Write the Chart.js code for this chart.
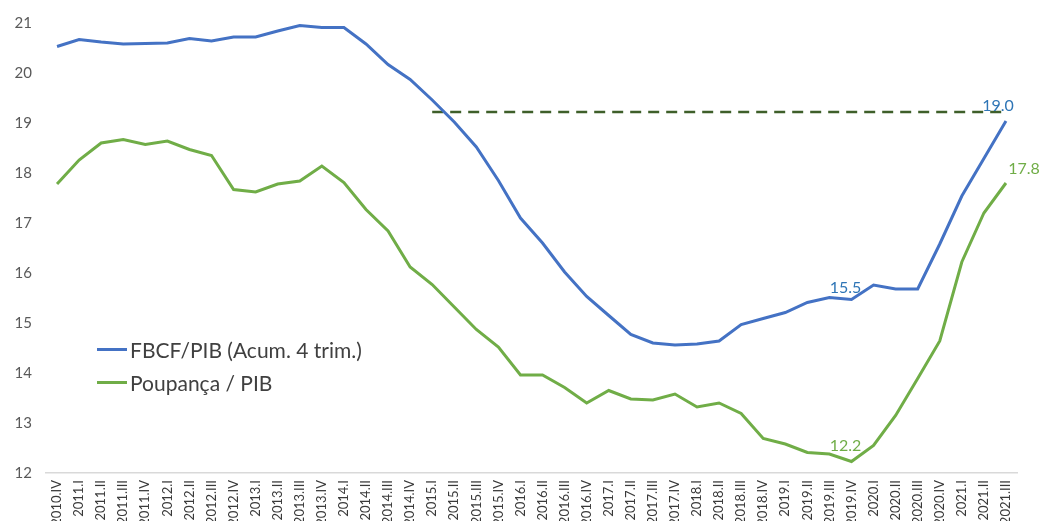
<!DOCTYPE html>
<html lang="pt">
<head>
  <meta charset="UTF-8">
  <title>FBCF e Poupança / PIB</title>
  <script src="https://cdn.jsdelivr.net/npm/chart.js@4.4.1/dist/chart.umd.min.js"></script>
  <style>
    html, body { margin: 0; padding: 0; background: #fff; overflow: hidden; }
    #wrap { position: relative; width: 1039px; height: 521px; overflow: hidden; }
    .leg { position: absolute; left: 97px; font: 21px Lato, sans-serif; color: #404040; display: flex; align-items: center; white-space: nowrap; }
    .leg i { display: inline-block; width: 30px; height: 3px; margin-right: 3px; }
  </style>
</head>
<body>
  <div id="wrap">
    <canvas id="chart" width="1039" height="560"></canvas>
    <div class="leg" style="top:337px"><i style="background:#4472C4"></i>FBCF/PIB (Acum. 4 trim.)</div>
    <div class="leg" style="top:370px"><i style="background:#70AD47"></i>Poupança / PIB</div>
  </div>
  <script>
    const quarters = [
      '2010.IV',
      '2011.I', '2011.II', '2011.III', '2011.IV',
      '2012.I', '2012.II', '2012.III', '2012.IV',
      '2013.I', '2013.II', '2013.III', '2013.IV',
      '2014.I', '2014.II', '2014.III', '2014.IV',
      '2015.I', '2015.II', '2015.III', '2015.IV',
      '2016.I', '2016.II', '2016.III', '2016.IV',
      '2017.I', '2017.II', '2017.III', '2017.IV',
      '2018.I', '2018.II', '2018.III', '2018.IV',
      '2019.I', '2019.II', '2019.III', '2019.IV',
      '2020.I', '2020.II', '2020.III', '2020.IV',
      '2021.I', '2021.II', '2021.III'
    ];

    // FBCF/PIB (acum. 4 trim.), %
    const fbcf = [
      20.53,
      20.67, 20.62, 20.58, 20.59,
      20.60, 20.69, 20.64, 20.72,
      20.72, 20.84, 20.95, 20.91,
      20.91, 20.58, 20.17, 19.87,
      19.46, 19.02, 18.52, 17.85,
      17.10, 16.60, 16.02, 15.53,
      15.15, 14.77, 14.60, 14.56,
      14.58, 14.64, 14.97, 15.09,
      15.21, 15.41, 15.51, 15.47,
      15.76, 15.68, 15.68, 16.58,
      17.54, 18.29, 19.04
    ];

    // Poupança / PIB, %
    const poupanca = [
      17.78,
      18.26, 18.60, 18.67, 18.57,
      18.64, 18.47, 18.35, 17.67,
      17.62, 17.78, 17.84, 18.14,
      17.81, 17.27, 16.84, 16.12,
      15.77, 15.32, 14.87, 14.52,
      13.96, 13.96, 13.71, 13.40,
      13.65, 13.48, 13.46, 13.58,
      13.32, 13.40, 13.19, 12.69,
      12.58, 12.41, 12.38, 12.23,
      12.55, 13.15, 13.89, 14.64,
      16.22, 17.20, 17.80
    ];

    // reference level (dashed), from 2015.I on
    const refLevel = 19.22;
    const refStart = '2015.I';
    const refLine = quarters.map((q, i) => i >= quarters.indexOf(refStart) ? refLevel : null);

    const yTicks = [12, 13, 14, 15, 16, 17, 18, 19, 20, 21];

    // value labels: dataset index, point index, text offset, colour
    const valueLabels = [
      { ds: 0, i: 36, dx: -6, dy: -12, color: '#2E75B6' },
      { ds: 0, i: 43, dx: -8, dy: -15, color: '#2E75B6' },
      { ds: 1, i: 36, dx: -6, dy: -16, color: '#70AD47' },
      { ds: 1, i: 43, dx: 18, dy: -14, color: '#70AD47' }
    ];

    const labelPlugin = {
      id: 'valueLabels',
      afterDatasetsDraw(chart) {
        const ctx = chart.ctx;
        ctx.save();
        ctx.font = '16px Lato, sans-serif';
        ctx.textAlign = 'center';
        ctx.textBaseline = 'middle';
        valueLabels.forEach(l => {
          const pt = chart.getDatasetMeta(l.ds).data[l.i];
          const v = chart.data.datasets[l.ds].data[l.i];
          ctx.fillStyle = l.color;
          ctx.fillText(v.toFixed(1), pt.x + l.dx, pt.y + l.dy);
        });
        ctx.restore();
      }
    };

    new Chart(document.getElementById('chart'), {
      type: 'line',
      data: {
        labels: quarters,
        datasets: [
          { label: 'FBCF/PIB (Acum. 4 trim.)', data: fbcf, borderColor: '#4472C4', borderWidth: 3, pointRadius: 0, tension: 0 },
          { label: 'Poupança / PIB', data: poupanca, borderColor: '#70AD47', borderWidth: 3, pointRadius: 0, tension: 0 },
          { label: 'ref', data: refLine, borderColor: '#3E5F2A', borderWidth: 2.5, borderDash: [11, 7], pointRadius: 0, spanGaps: false }
        ]
      },
      options: {
        responsive: false,
        animation: false,
        layout: { padding: { top: 18, right: 22, left: 0, bottom: 0 } },
        plugins: { legend: { display: false }, tooltip: { enabled: false } },
        scales: {
          x: {
            offset: true,
            grid: { display: false, drawTicks: false },
            border: { color: '#D9D9D9', width: 1.5 },
            ticks: {
              autoSkip: false, minRotation: 90, maxRotation: 90, padding: 7,
              color: '#3A3A3A', font: { family: 'Lato', size: 13 }
            },
            afterFit(s) { s.height = 87; }
          },
          y: {
            min: 12, max: 21,
            grid: { display: false, drawTicks: false },
            border: { display: false },
            afterBuildTicks(s) { s.ticks = yTicks.map(v => ({ value: v })); },
            ticks: { color: '#595959', padding: 14, font: { family: 'Lato', size: 15 } },
            afterFit(s) { s.width = 46; }
          }
        }
      },
      plugins: [labelPlugin]
    });
  </script>
</body>
</html>
